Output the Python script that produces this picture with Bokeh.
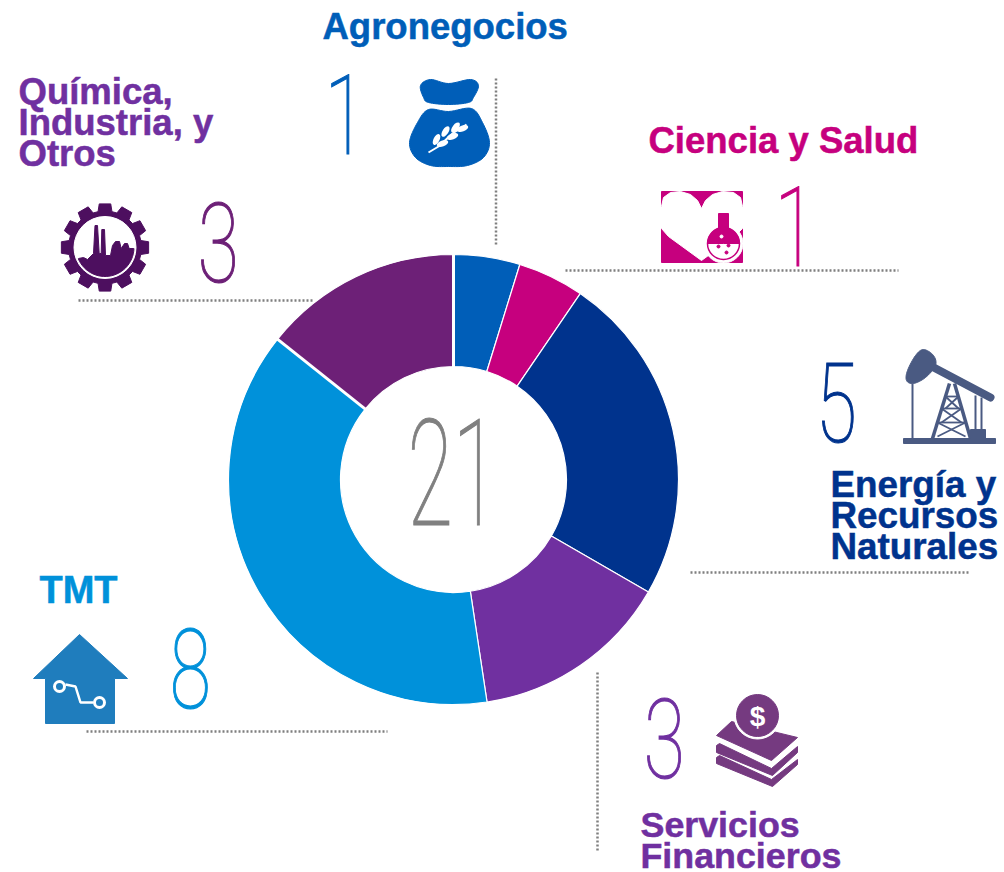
import numpy as np
from bokeh.plotting import figure
from bokeh.document import Document
from bokeh.models import Range1d, CustomJS
from bokeh.core.properties import value
from bokeh.embed import file_html
from bokeh.resources import INLINE

categories = ["Agronegocios", "Ciencia y Salud", "Energía y Recursos Naturales", "Servicios Financieros", "TMT", "Química, Industria, y Otros"]
counts = [1, 1, 5, 3, 8, 3]
slice_colors = ["#005EB8", "#C6007E", "#00338D", "#7030A0", "#0091DA", "#6D2077"]
total = sum(counts)

W, H = 1004, 872
p = figure(width=W, height=H, output_backend="svg", toolbar_location=None,
           x_range=Range1d(0, W), y_range=Range1d(H, 0), min_border=0)
p.axis.visible = False
p.grid.visible = False
p.outline_line_color = None
p.background_fill_color = "white"
p.border_fill_color = "white"


def smooth(xs, ys, n=8):
    """Closed Catmull-Rom outline through the given points, for the icon shapes."""
    P = np.column_stack([xs, ys]).astype(float)
    out = []
    m = len(P)
    for i in range(m):
        p0, p1, p2, p3 = P[i - 1], P[i], P[(i + 1) % m], P[(i + 2) % m]
        for u in np.linspace(0, 1, n, endpoint=False):
            out.append(0.5 * (2 * p1 + (p2 - p0) * u + (2 * p0 - 5 * p1 + 4 * p2 - p3) * u ** 2
                              + (3 * p1 - p0 - 3 * p2 + p3) * u ** 3))
    out = np.array(out)
    return list(out[:, 0]), list(out[:, 1])


# donut
cx, cy = 453, 479
cum = np.cumsum([0] + counts) / total * 2 * np.pi
p.annular_wedge(x=[cx] * 6, y=[cy] * 6, inner_radius=113, outer_radius=225,
                inner_radius_units="screen", outer_radius_units="screen",
                start_angle=list(np.pi / 2 - cum[1:]), end_angle=list(np.pi / 2 - cum[:-1]),
                fill_color=slice_colors, line_color="white", line_width=1.2)
for a in (cum[0], cum[5]):
    p.line([cx + 110 * np.sin(a), cx + 228 * np.sin(a)], [cy - 110 * np.cos(a), cy - 228 * np.cos(a)],
           line_color="white", line_width=3)

# dotted leader lines
GREY = "#7F7F7F"
for xs, ys in [([495.5, 495.5], [78, 245]), ([78, 314], [300, 300]), ([565, 898], [270, 270]),
               ([690, 969], [572, 572]), ([597, 597], [672, 852]), ([86, 387], [731, 731])]:
    p.line(xs, ys, line_color=GREY, line_width=2.5, line_dash="2 2")

# titles
TF = value("Liberation Sans")
SHIFT = 0.35
def title(lines, x, y0, color, size=36.5):
    for i, s in enumerate(lines):
        p.text([x], [y0 + i * 31 - SHIFT * size], text=[s], text_font=TF, text_font_style="bold", text_font_size=f"{size}px",
               text_color=color, text_baseline="alphabetic", text_align="left")
title(["Agronegocios"], 322, 39, "#005EB8")
title(["Ciencia y Salud"], 648, 153, "#C6007E")
title(["Energía y", "Recursos", "Naturales"], 830, 497, "#00338D", 36.8)
title(["Servicios", "Financieros"], 640, 837, "#7030A0", 35.8)
title(["TMT"], 39, 603, "#0091DA", 38)
title(["Química,", "Industria, y", "Otros"], 18, 104, "#7030A0")

# big numerals
def numeral(txt, x, y, size, color):
    p.text([x], [y - 0.357 * size], text=[txt], text_font=value("Roboto Thin"), text_font_size=f"{size}px",
           text_color=color, text_baseline="alphabetic", text_align="center")
numeral(str(counts[0]), 355, 153, 112, "#005EB8")
numeral(str(counts[1]), 805, 265, 112, "#C6007E")
numeral(str(counts[2]), 846, 441, 112, "#00338D")
numeral(str(counts[3]), 674, 777, 112, "#7030A0")
numeral(str(counts[4]), 200, 707, 112, "#0091DA")
numeral(str(counts[5]), 228, 281, 112, "#6D2077")
numeral(str(total), 488, 524, 148, "#808080")

# icons: sack
BL = "#005EB8"
sx, sy = smooth([420, 430, 448, 470, 478, 473, 468, 448, 428, 423],
                [85, 79, 83, 79, 85, 97, 102, 104, 102, 97])
p.patch(sx, sy, color=BL)
sx, sy = smooth([428, 448, 471, 482, 489, 483, 467, 448, 430, 415, 409, 417],
                [109, 111, 108, 122, 142, 157, 165, 166, 165, 157, 142, 122])
p.patch(sx, sy, color=BL)
p.line([428, 438, 452, 466], [152, 146, 133, 124], line_color="white", line_width=2)
p.ellipse([436, 445, 455, 442, 452, 462], [139, 131, 127, 143, 136, 128], width=12, height=6,
          angle=[1.1, 1.0, 0.9, 0.35, 0.35, 0.35], fill_color="white", line_color=None)

# flask and heart
PK = "#C6007E"
p.quad(left=661, right=742, top=191, bottom=262, color=PK)
hx = [701, 697, 690, 680, 670, 663, 661, 661, 668, 701, 734, 742, 742, 740, 733, 722, 712, 705]
hy = [208, 200, 194, 191, 192, 197, 206, 228, 236, 260, 236, 228, 206, 197, 192, 191, 194, 200]
p.patch(hx, hy, color="white")
p.quad(left=716, right=730, top=209, bottom=232, color="white")
p.circle([723], [243], radius=19.5, radius_units="screen", color="white")
p.quad(left=718, right=728, top=213, bottom=232, color=PK)
p.circle([723], [243], radius=16, radius_units="screen", fill_color="white", line_color=PK, line_width=1.5)
p.wedge([723], [243], radius=16, radius_units="screen", start_angle=0, end_angle=np.pi, color=PK)
p.circle([721, 718, 728, 726], [236, 246, 245, 252], radius=1.5, radius_units="screen",
         color=["white", PK, PK, PK])

# oil pump
OIL = "#4A5A82"
p.quad(left=903, right=995, top=438, bottom=443, color=OIL)
p.line([920, 990], [360, 397], line_color=OIL, line_width=8, line_cap="round")
sx, sy = smooth([915, 923, 933, 935, 925, 913, 906, 907], [355, 349, 355, 365, 377, 383, 380, 370])
p.patch(sx, sy, color=OIL)
p.multi_line([[912, 912], [932, 949], [970, 954], [975, 975], [981, 981],
              [937, 965], [965, 937], [941, 961], [961, 941], [945, 958], [958, 945],
              [945, 958], [941, 961], [938, 965]],
             [[383, 438], [438, 383], [438, 383], [395, 430], [397, 430],
              [436, 422], [436, 422], [422, 408], [422, 408], [408, 396], [408, 396],
              [396, 396], [408, 408], [422, 422]],
             line_color=OIL, line_width=[2, 3.5, 3.5, 2, 2, 1.8, 1.8, 1.8, 1.8, 1.8, 1.8, 1.8, 1.8, 1.8])
p.quad(left=970, right=985, top=429, bottom=438, color=OIL)

# house
HS = "#1F7DBD"
p.patch([79, 33, 45, 45, 114, 114, 127], [634, 678, 678, 723, 723, 678, 678], color=HS)
p.line([65, 75, 80, 93], [684, 686, 702, 702], line_color="white", line_width=2.5)
p.circle([59, 99], [686, 702], radius=5, radius_units="screen", fill_color=HS, line_color="white", line_width=3)

# money
MN = "#753A80"
p.patch([716, 731, 797, 771], [735, 721, 737, 760], color=MN)
p.circle([757], [715], radius=23.5, radius_units="screen", color="white")
p.circle([757], [715], radius=21, radius_units="screen", color=MN)
p.text([757], [716], text=["$"], text_font=TF, text_font_style="bold", text_font_size="28px", text_color="white",
       text_align="center", text_baseline="middle")
p.patch([716, 719, 771, 797, 797, 772, 716], [745, 743, 768, 746, 752, 775, 752], color=MN)
p.patch([716, 719, 771, 797, 797, 772, 716], [757, 755, 779, 759, 764, 786, 763], color=MN)

# factory gear
FC = "#4D0F5F"
gx, gy = 104.5, 247
ang, rad = [], []
for a in np.deg2rad(np.arange(12) * 30 - 90):
    ang += [a - np.deg2rad(11), a - np.deg2rad(7.5), a + np.deg2rad(7.5), a + np.deg2rad(11)]
    rad += [36.5, 44, 44, 36.5]
p.patch(list(gx + np.array(rad) * np.cos(ang)), list(gy + np.array(rad) * np.sin(ang)), color=FC)
p.circle([gx], [gy], radius=31, radius_units="screen", color="white")
arc = np.deg2rad(np.linspace(2, 157, 30))
p.patch([78, 83, 87, 93, 94.5, 97, 98.7, 100.7, 101.3, 104, 105, 110, 112, 115, 119, 120.7, 124, 127, 128.7, 133]
        + list(gx + 29 * np.cos(arc)),
        [258, 257, 259, 253, 225, 225, 253, 253, 229, 229, 255, 255, 245, 241, 241, 248, 243, 243, 248, 248]
        + list(gy + 29 * np.sin(arc)), color=FC)

# condense the tall thin numerals, which no installed font offers
squeeze = CustomJS(code="""
function walk(root, out) {
  for (const el of root.querySelectorAll('*')) {
    if (el.tagName === 'text') out.push(el);
    if (el.shadowRoot) walk(el.shadowRoot, out);
  }
  return out;
}
function apply() {
  for (const el of walk(document, [])) {
    const size = parseFloat(el.getAttribute('font-size') || el.style.fontSize || '0');
    const fill = el.getAttribute('fill') || el.style.fill;
    if (size < 100) {
      if (size > 30) { el.style.stroke = fill; el.style.strokeWidth = '0.5px'; }
      continue;
    }
    if (el.dataset.done) continue;
    el.dataset.done = '1';
    const k = size > 130 ? 0.56 : 0.67;
    el.setAttribute('transform', (el.getAttribute('transform') || '') + ' scale(' + k + ',1)');
    el.style.stroke = fill;
    el.style.strokeWidth = '1.2px';
  }
}
let n = 0;
const id = setInterval(() => { apply(); if (++n > 40) clearInterval(id); }, 50);
""")
doc = Document()
doc.add_root(p)
doc.js_on_event("document_ready", squeeze)
open("out.html", "w").write(file_html(doc, INLINE))
